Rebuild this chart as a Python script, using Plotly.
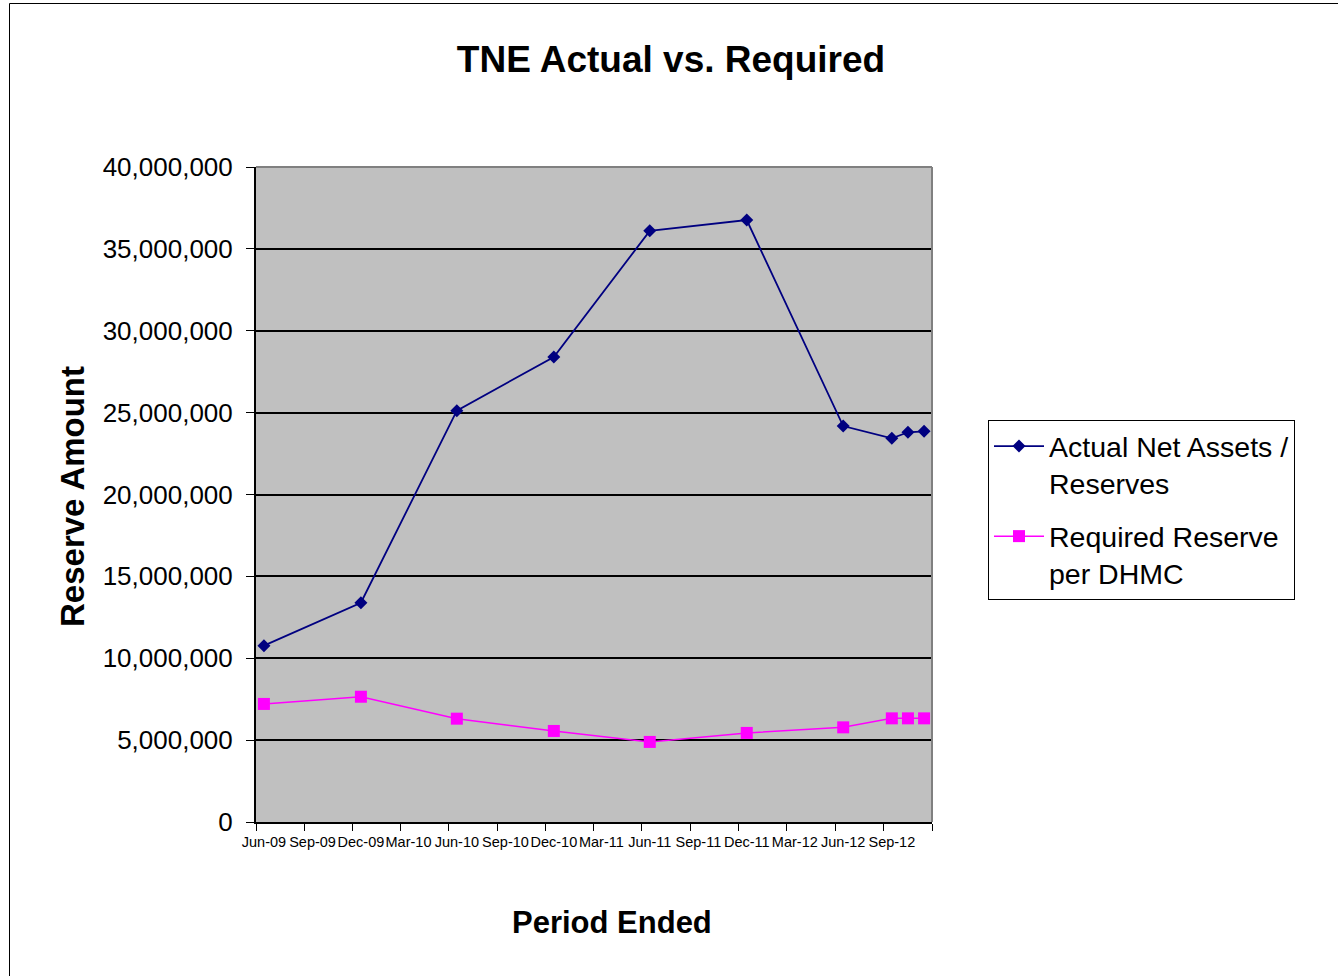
import pandas as pd
import plotly.graph_objects as go

# Reporting periods (month ended) and reserve amounts
periods = ["2009-06", "2009-12", "2010-06", "2010-12", "2011-06",
           "2011-12", "2012-06", "2012-09", "2012-10", "2012-11"]
actual_net_assets = [10770000, 13390000, 25120000, 28400000, 36100000,
                     36760000, 24180000, 23430000, 23800000, 23860000]
required_reserve = [7210000, 7650000, 6310000, 5560000, 4890000,
                    5440000, 5780000, 6330000, 6330000, 6330000]

tick_labels = ["Jun-09", "Sep-09", "Dec-09", "Mar-10", "Jun-10", "Sep-10", "Dec-10",
               "Mar-11", "Jun-11", "Sep-11", "Dec-11", "Mar-12", "Jun-12", "Sep-12"]

series_names = ["Actual Net Assets /<br>Reserves", "Required Reserve<br>per DHMC"]


def mid_month(p):
    per = pd.Period(p, freq="M")
    return per.start_time + (per.end_time - per.start_time) / 2


x_vals = [mid_month(p) for p in periods]
tick_vals = [mid_month(pd.to_datetime(t, format="%b-%y").strftime("%Y-%m")) for t in tick_labels]

FONT = "Arial, 'Liberation Sans', sans-serif"

fig = go.Figure()
fig.add_trace(go.Scatter(
    x=x_vals, y=actual_net_assets, name=series_names[0], mode="lines+markers",
    line=dict(color="#000080", width=1.8),
    marker=dict(symbol="diamond", size=10, color="#000080"),
    legendgroup="a",
))
fig.add_trace(go.Scatter(
    x=x_vals, y=required_reserve, name=series_names[1], mode="lines+markers",
    line=dict(color="#FF00FF", width=1.5),
    marker=dict(symbol="square", size=12, color="#FF00FF"),
    legendgroup="b",
))

W, H = 1338, 976
L, R, T, B = 256, 932, 167, 822
pw, ph = R - L, B - T


def px_x(p):
    return (p - L) / pw


def px_y(p):
    return (B - p) / ph


fig.update_layout(
    width=W, height=H,
    template="none",
    paper_bgcolor="white",
    plot_bgcolor="#C0C0C0",
    margin=dict(l=L, r=W - R, t=T, b=H - B, pad=0),
    font=dict(family=FONT, color="black"),
    title=dict(text="<b>TNE Actual vs. Required</b>", x=671 / W, xanchor="center",
               y=1 - 59 / H, yanchor="middle", yref="container",
               font=dict(size=37, family=FONT, color="black")),
    showlegend=True,
    legend=dict(x=px_x(988), y=px_y(420), xanchor="left", yanchor="top",
                bgcolor="white", bordercolor="black", borderwidth=1,
                font=dict(size=28.5, family=FONT, color="black"),
                valign="top", traceorder="grouped", tracegroupgap=13,
                itemwidth=50),
    xaxis=dict(
        type="date", range=["2009-06-01", "2012-12-01"],
        tickmode="array", tickvals=tick_vals, ticktext=tick_labels,
        ticks="", ticklabelstandoff=6, tickangle=0,
        tickfont=dict(size=14.5, family=FONT, color="black"),
        showgrid=False, zeroline=False,
        showline=True, linecolor="black", linewidth=2,
        minor=dict(tickmode="linear", tick0="2009-06-01", dtick="M3",
                   ticks="outside", ticklen=7, tickwidth=1, tickcolor="black",
                   showgrid=False),
        automargin=False, fixedrange=True,
    ),
    yaxis=dict(
        range=[0, 40000000], tickmode="linear", tick0=0, dtick=5000000,
        tickformat=",d", ticks="outside", ticklen=8, tickwidth=1, tickcolor="black",
        ticklabelstandoff=8,
        tickfont=dict(size=26, family=FONT, color="black"),
        showgrid=True, gridcolor="black", gridwidth=2, zeroline=False,
        showline=True, linecolor="black", linewidth=2,
        automargin=False, fixedrange=True,
    ),
    annotations=[
        dict(text="<b>Reserve Amount</b>", textangle=-90, xref="paper", yref="paper",
             x=px_x(73), y=px_y(497), xanchor="center", yanchor="middle",
             showarrow=False, font=dict(size=33, family=FONT, color="black")),
        dict(text="<b>Period Ended</b>", xref="paper", yref="paper",
             x=px_x(612), y=px_y(923), xanchor="center", yanchor="middle",
             showarrow=False, font=dict(size=31, family=FONT, color="black")),
    ],
    shapes=[
        # chart frame
        dict(type="rect", xref="paper", yref="paper", x0=px_x(9.5), x1=px_x(1345),
             y0=px_y(990), y1=px_y(3.5), line=dict(color="black", width=1),
             fillcolor="rgba(0,0,0,0)", layer="below"),
        # plot area border (top and right)
        dict(type="line", xref="paper", yref="paper", x0=0, x1=1, y0=1, y1=1,
             line=dict(color="#808080", width=2), layer="above"),
        dict(type="line", xref="paper", yref="paper", x0=1, x1=1, y0=0, y1=1,
             line=dict(color="#808080", width=2), layer="above"),
    ],
)

fig.write_html("out.html")
